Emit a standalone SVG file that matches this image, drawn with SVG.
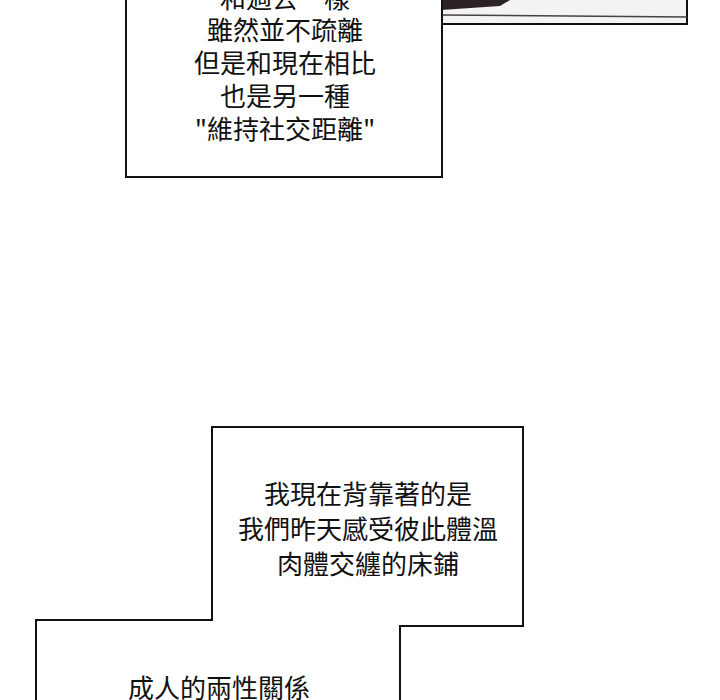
<svg xmlns="http://www.w3.org/2000/svg" width="720" height="700" viewBox="0 0 720 700">
<style>
.t{font-family:"Noto Sans CJK TC","Noto Sans CJK SC",sans-serif;font-size:26px;fill:#111;text-anchor:middle}
.b{fill:#fff;stroke:#111;stroke-width:2}
</style>
<rect width="720" height="700" fill="#fff"/>
<g id="topright">
<rect x="441" y="-2" width="246" height="26" fill="#f4f2f2" stroke="#111" stroke-width="2"/>
<polygon points="441,0 510,0 500,6 441,10" fill="#2a2224"/>
<line x1="441" y1="15" x2="687" y2="17" stroke="#444" stroke-width="1.5"/>
</g>
<g id="box1">
<rect class="b" x="126" y="-5" width="316" height="182"/>
<text class="t" x="285" y="8">和過去一樣</text>
<text class="t" x="285" y="40">雖然並不疏離</text>
<text class="t" x="285" y="73">但是和現在相比</text>
<text class="t" x="285" y="106">也是另一種</text>
<text class="t" x="285" y="139">"維持社交距離"</text>
</g>
<g id="box2">
<polygon class="b" points="212,427 523,427 523,626 400,626 400,702 36,702 36,620 212,620"/>
<text class="t" x="368" y="504">我現在背靠著的是</text>
<text class="t" x="368" y="539">我們昨天感受彼此體溫</text>
<text class="t" x="368" y="574">肉體交纏的床鋪</text>
<text class="t" x="219" y="698">成人的兩性關係</text>
</g>
</svg>
